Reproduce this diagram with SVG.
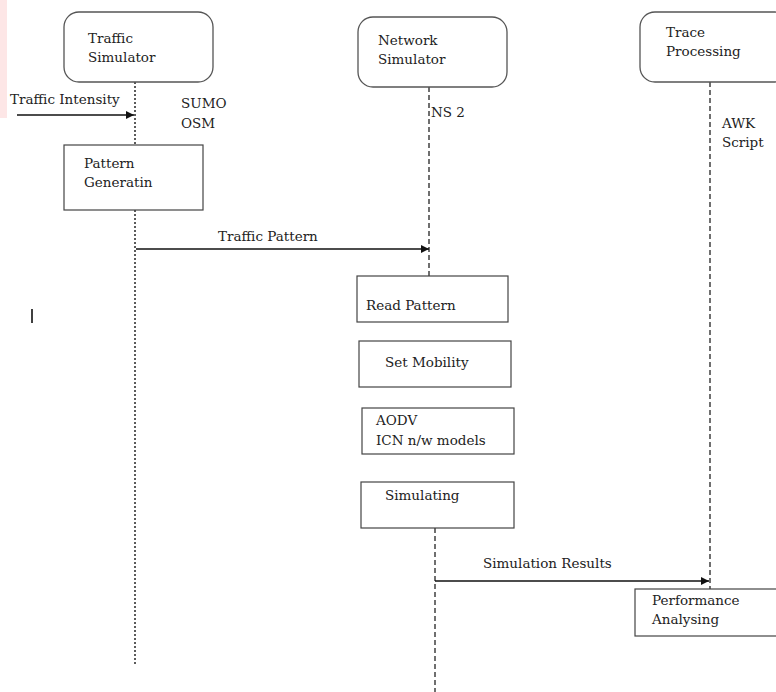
<svg xmlns="http://www.w3.org/2000/svg" width="776" height="692" viewBox="0 0 776 692">
<defs>
<marker id="arr" viewBox="0 0 10 10" refX="10" refY="5" markerWidth="9" markerHeight="8" markerUnits="userSpaceOnUse" orient="auto">
<path d="M0,0 L10,5 L0,10 z" fill="#111"/>
</marker>
</defs>
<style>
text{font-family:"DejaVu Serif","Liberation Serif",serif;font-size:13.5px;fill:#222}
.rbox{fill:#fff;stroke:#555;stroke-width:1.3}
.box{fill:#fff;stroke:#444;stroke-width:1.2}
.dot{stroke:#333;stroke-width:1.6;stroke-dasharray:2 2;fill:none}
.dash{stroke:#333;stroke-width:1.4;stroke-dasharray:5 3;fill:none}
.msg{stroke:#111;stroke-width:1.3;fill:none;marker-end:url(#arr)}
</style>
<rect width="776" height="692" fill="#fff"/>
<rect x="0" y="0" width="7" height="118" fill="#fde6e6"/>
<line x1="32" y1="309" x2="32" y2="323" stroke="#000" stroke-width="1.5"/>

<g id="connectors">
<line class="dot" x1="135" y1="82" x2="135" y2="145"/>
<line class="dot" x1="135" y1="210" x2="135" y2="666"/>
<line class="dash" x1="429" y1="87" x2="429" y2="276"/>
<line class="dash" x1="435" y1="528" x2="435" y2="692"/>
<line class="dash" x1="710" y1="82" x2="710" y2="589"/>
<line class="msg" x1="17" y1="115" x2="134" y2="115"/>
<line class="msg" x1="136" y1="249" x2="429" y2="249"/>
<line class="msg" x1="435" y1="581" x2="709" y2="581"/>
</g>

<g id="traffic-intensity-label"><text x="10" y="104">Traffic Intensity</text></g>
<g id="traffic-pattern-label"><text x="218" y="241">Traffic Pattern</text></g>
<g id="simulation-results-label"><text x="483" y="568">Simulation Results</text></g>

<g id="traffic-simulator">
<rect class="rbox" x="64" y="12" width="149" height="70" rx="15"/>
<text x="88" y="43">Traffic</text>
<text x="88" y="62">Simulator</text>
</g>
<g id="sumo-osm">
<text x="181" y="108">SUMO</text>
<text x="181" y="128">OSM</text>
</g>
<g id="pattern-generatin">
<rect class="box" x="64" y="145" width="139" height="65"/>
<text x="84" y="168">Pattern</text>
<text x="84" y="187">Generatin</text>
</g>

<g id="network-simulator">
<rect class="rbox" x="358" y="17" width="149" height="70" rx="15"/>
<text x="378" y="45">Network</text>
<text x="378" y="64">Simulator</text>
</g>
<g id="ns2"><text x="431" y="117">NS 2</text></g>
<g id="read-pattern">
<rect class="box" x="357" y="276" width="151" height="46"/>
<text x="366" y="310">Read Pattern</text>
</g>
<g id="set-mobility">
<rect class="box" x="359" y="341" width="152" height="46"/>
<text x="385" y="367">Set Mobility</text>
</g>
<g id="aodv">
<rect class="box" x="362" y="408" width="152" height="46"/>
<text x="376" y="425">AODV</text>
<text x="376" y="445">ICN n/w models</text>
</g>
<g id="simulating">
<rect class="box" x="361" y="482" width="153" height="46"/>
<text x="385" y="500">Simulating</text>
</g>

<g id="trace-processing">
<rect class="rbox" x="640" y="12" width="150" height="70" rx="15"/>
<text x="666" y="37">Trace</text>
<text x="666" y="56">Processing</text>
</g>
<g id="awk-script">
<text x="722" y="128">AWK</text>
<text x="722" y="147">Script</text>
</g>
<g id="performance-analysing">
<rect class="box" x="635" y="589" width="150" height="47"/>
<text x="652" y="605">Performance</text>
<text x="652" y="624">Analysing</text>
</g>
</svg>
